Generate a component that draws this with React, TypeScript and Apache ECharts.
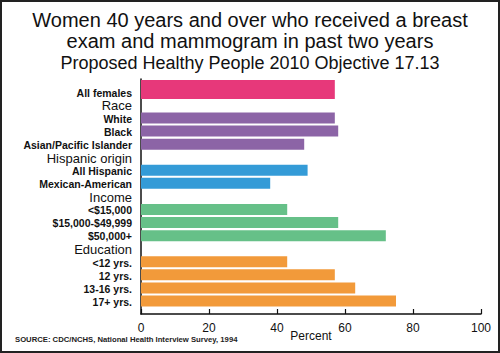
import React, { useEffect, useRef } from "react";
import * as echarts from "echarts";

const categories = [
  "All females",
  "Race",
  "White",
  "Black",
  "Asian/Pacific Islander",
  "Hispanic origin",
  "All Hispanic",
  "Mexican-American",
  "Income",
  "<$15,000",
  "$15,000-$49,999",
  "$50,000+",
  "Education",
  "<12 yrs.",
  "12 yrs.",
  "13-16 yrs.",
  "17+ yrs.",
];
const groups = [
  "total", "header", "race", "race", "race", "header", "hispanic", "hispanic",
  "header", "income", "income", "income", "header", "education", "education", "education", "education",
];
const values: (number | null)[] = [
  57, null, 57, 58, 48, null, 49, 38, null, 43, 58, 72, null, 43, 57, 63, 75,
];
const xTicks = { min: 0, max: 100, interval: 20 };
const titleLines = [
  "Women 40 years and over who received a breast",
  "exam and mammogram in past two years",
];
const subtitle = "Proposed Healthy People 2010 Objective 17.13";
const xName = "Percent";
const source = "SOURCE: CDC/NCHS, National Health Interview Survey, 1994";

const groupColors: Record<string, string> = {
  total: "#E7387A",
  race: "#8C64A6",
  hispanic: "#349BD7",
  income: "#66C088",
  education: "#F29A3A",
};

const FONT = "'Liberation Sans', Arial, Helvetica, sans-serif";

export default function App() {
  const ref = useRef<HTMLDivElement>(null);
  useEffect(() => {
    if (!ref.current) return;
    const chart = echarts.init(ref.current, undefined, { renderer: "svg" });
    const otherData = values.map((v, i) =>
      v == null || groups[i] === "total"
        ? "-"
        : { value: v, itemStyle: { color: groupColors[groups[i]] } }
    );
    const totalData = values.map((v, i) =>
      v != null && groups[i] === "total"
        ? { value: v, itemStyle: { color: groupColors.total } }
        : "-"
    );
    const catData = categories.map((c, i) =>
      groups[i] === "header"
        ? { value: c, textStyle: { fontSize: 13, fontWeight: "normal", align: "right" } }
        : { value: c, textStyle: { fontSize: 10.5, fontWeight: "bold", align: "right" } }
    );
    chart.setOption({
      animation: false,
      backgroundColor: "#fff",
      title: [
        {
          text: titleLines[0],
          left: "center",
          top: 10,
          padding: 0,
          textStyle: { fontFamily: FONT, fontSize: 20, fontWeight: "normal", color: "#111" },
        },
        {
          text: titleLines[1],
          left: "center",
          top: 31,
          padding: 0,
          textStyle: { fontFamily: FONT, fontSize: 20, fontWeight: "normal", color: "#111" },
        },
        {
          text: subtitle,
          left: "center",
          top: 54,
          padding: 0,
          textStyle: { fontFamily: FONT, fontSize: 18, fontWeight: "normal", color: "#111" },
        },
      ],
      graphic: [
        {
          type: "rect",
          shape: { x: 1, y: 1, width: 498, height: 351 },
          style: { fill: "none", stroke: "#222", lineWidth: 2 },
          silent: true,
        },
        {
          type: "text",
          x: 15,
          y: 339,
          style: {
            text: source,
            fontFamily: FONT,
            fontSize: 7.7,
            fontWeight: "bold",
            fill: "#222",
            verticalAlign: "middle",
          },
        },
      ],
      grid: [
        { left: 141, right: 19, top: 79, bottom: 39 },
        { left: 141, right: 19, top: 86.13, bottom: 44.67 },
      ],
      xAxis: [
        {
          gridIndex: 0,
          type: "value",
          min: xTicks.min,
          max: xTicks.max,
          interval: xTicks.interval,
          position: "bottom",
          axisLine: { show: true, onZero: false, lineStyle: { color: "#111", width: 1.5 } },
          axisTick: { show: true, inside: true, length: 5, lineStyle: { color: "#111", width: 1.2 } },
          axisLabel: { margin: 8, fontFamily: FONT, fontSize: 12, color: "#111" },
          splitLine: { show: false },
          name: xName,
          nameLocation: "middle",
          nameGap: 16,
          nameMoveOverlap: false,
          nameTextStyle: { fontFamily: FONT, fontSize: 12, color: "#111" },
        },
        {
          gridIndex: 1,
          type: "value",
          min: xTicks.min,
          max: xTicks.max,
          show: false,
        },
      ],
      yAxis: [
        {
          gridIndex: 0,
          type: "value",
          min: 0,
          max: 1,
          axisLine: { show: true, onZero: false, lineStyle: { color: "#111", width: 1.5 } },
          axisTick: { show: false },
          axisLabel: { show: false },
          splitLine: { show: false },
        },
        {
          gridIndex: 1,
          type: "category",
          inverse: true,
          data: catData,
          axisLine: { show: false },
          axisTick: { show: false },
          axisLabel: {
            margin: 9,
            interval: 0,
            fontFamily: FONT,
            color: "#111",
          },
        },
      ],
      series: [
        {
          name: "Groups",
          type: "bar",
          xAxisIndex: 1,
          yAxisIndex: 1,
          barWidth: 11,
          barGap: "-158%",
          clip: false,
          data: otherData,
        },
        {
          name: "All females",
          type: "bar",
          xAxisIndex: 1,
          yAxisIndex: 1,
          barWidth: 19,
          barGap: "-158%",
          clip: false,
          data: totalData,
        },
      ],
    });
    return () => chart.dispose();
  }, []);
  return (
    <div
      ref={ref}
      style={{ position: "absolute", left: 0, top: 0, width: 500, height: 353 }}
    />
  );
}
